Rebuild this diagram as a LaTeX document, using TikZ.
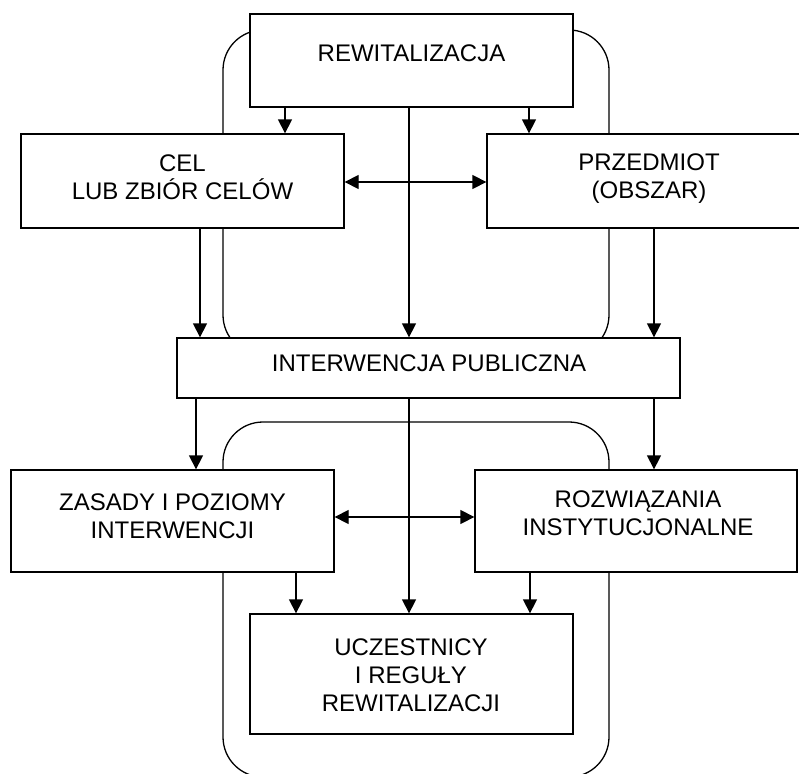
\documentclass[tikz,border=0pt]{standalone}
\usepackage{fontspec}
\setmainfont{Liberation Sans}
\usetikzlibrary{arrows.meta}
\begin{document}
\begin{tikzpicture}[x=1pt,y=-1pt,
  boxnode/.style={draw, line width=1.3pt, fill=white, rectangle, inner sep=0pt},
  txt/.style={inner sep=0pt, align=center, font=\fontsize{24}{28}\selectfont},
  frame/.style={draw, line width=1.3pt, rounded corners=40pt},
  arr/.style={line width=1.3pt, -{Triangle[length=14pt,width=14pt]}},
  darr/.style={line width=1.3pt, {Triangle[length=14pt,width=14pt]}-{Triangle[length=14pt,width=14pt]}}]
\useasboundingbox (0,0) rectangle (799,773);
% rounded frames
\draw[frame] (223,30) rectangle (609,355);
\draw[frame] (223,422) rectangle (609,777);
% boxes
\node[boxnode, minimum width=323pt, minimum height=93pt] (rew) at (411.5,60.5) {};
\node[boxnode, minimum width=323pt, minimum height=94pt] (cel) at (182.5,181) {};
\node[boxnode, minimum width=324pt, minimum height=94pt] (prz) at (649,181) {};
\node[boxnode, minimum width=503pt, minimum height=60pt] (int) at (428.5,368) {};
\node[boxnode, minimum width=323pt, minimum height=102pt] (zas) at (172.5,521) {};
\node[boxnode, minimum width=322pt, minimum height=102pt] (roz) at (636,521) {};
\node[boxnode, minimum width=323pt, minimum height=120pt] (ucz) at (411.5,674) {};
% texts
\node[txt] (rewT) at (411.5,53.5) {REWITALIZACJA};
\node[txt] (celT) at (182.5,177) {CEL\\LUB ZBIÓR CELÓW};
\node[txt] (przT) at (649,179) {PRZEDMIOT\\(OBSZAR)};
\node[txt] (intT) at (429,363) {INTERWENCJA PUBLICZNA};
\node[txt] (zasT) at (172.5,516) {ZASADY I POZIOMY\\INTERWENCJI};
\node[txt] (rozT) at (638,513.5) {ROZWIĄZANIA\\INSTYTUCJONALNE};
\node[txt] (uczT) at (411,675) {UCZESTNICY\\I REGUŁY\\REWITALIZACJI};
% helper coordinates
\coordinate (xa) at (285,0);
\coordinate (xb) at (529,0);
\coordinate (xc) at (409,0);
\coordinate (xd) at (200,0);
\coordinate (xe) at (654,0);
\coordinate (xf) at (196,0);
\coordinate (xg) at (296,0);
\coordinate (xh) at (530,0);
\coordinate (ya) at (0,182);
\coordinate (yb) at (0,517);
% connectors
\draw[arr] (xa |- rew.south) -- (xa |- cel.north);
\draw[arr] (xb |- rew.south) -- (xb |- prz.north);
\draw[arr] (xc |- rew.south) -- (xc |- int.north);
\draw[darr] (cel.east |- ya) -- (prz.west |- ya);
\draw[arr] (xd |- cel.south) -- (xd |- int.north);
\draw[arr] (xe |- prz.south) -- (xe |- int.north);
\draw[arr] (xf |- int.south) -- (xf |- zas.north);
\draw[arr] (xe |- int.south) -- (xe |- roz.north);
\draw[arr] (xc |- int.south) -- (xc |- ucz.north);
\draw[darr] (zas.east |- yb) -- (roz.west |- yb);
\draw[arr] (xg |- zas.south) -- (xg |- ucz.north);
\draw[arr] (xh |- roz.south) -- (xh |- ucz.north);
\end{tikzpicture}
\end{document}
